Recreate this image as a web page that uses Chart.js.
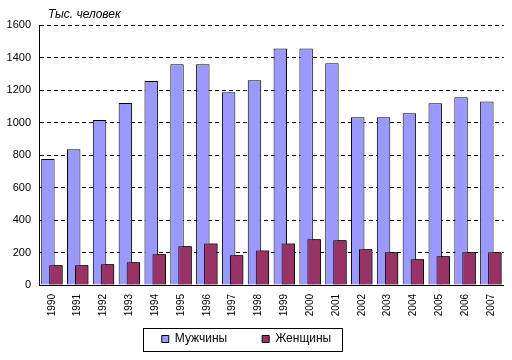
<!DOCTYPE html>
<html>
<head>
<meta charset="utf-8">
<script src="https://cdn.jsdelivr.net/npm/chart.js@4/dist/chart.umd.min.js"></script>
<style>
html, body { margin: 0; padding: 0; background: #ffffff; }
#wrap { width: 512px; height: 360px; }
</style>
</head>
<body>
<div id="wrap"><canvas id="chart" width="512" height="360"></canvas></div>
<script>
const years = ['1990', '1991', '1992', '1993', '1994', '1995', '1996', '1997', '1998',
    '1999', '2000', '2001', '2002', '2003', '2004', '2005', '2006', '2007'];
const men = [775, 835, 1015, 1120, 1255, 1358, 1358, 1186, 1260, 1455, 1455, 1364, 1032, 1032, 1057, 1118, 1155, 1130];
const women = [121, 121, 127, 140, 189, 238, 256, 183, 213, 256, 281, 275, 220, 201, 158, 177, 201, 201];
const seriesNames = ['Мужчины', 'Женщины'];
const unitLabel = 'Тыс. человек';

Chart.defaults.font.family = '"Liberation Sans", Arial, sans-serif';
Chart.defaults.color = '#000000';

// excel draws the second series over the first one
const womenOnTop = {
    id: 'womenOnTop',
    afterDatasetsDraw(chart) {
        chart.getDatasetMeta(1).controller.draw();
    }
};

const unitTitle = {
    id: 'unitTitle',
    afterDraw(chart) {
        const ctx = chart.ctx;
        ctx.save();
        ctx.font = 'italic 12px "Liberation Sans", Arial, sans-serif';
        ctx.fillStyle = '#000';
        ctx.textBaseline = 'alphabetic';
        ctx.fillText(unitLabel, chart.chartArea.left + 9, 18);
        ctx.restore();
    }
};

// legend in the original sits a bit left of centre, tucked under the year labels, with a frame
const legendFrame = {
    id: 'legendFrame',
    afterLayout(chart) {
        const lg = chart.legend;
        lg.left -= 7;
        lg.right -= 7;
        lg.top = chart.chartArea.bottom + 13;
        lg.bottom = chart.height;
        lg.height = lg.bottom - lg.top;
    },
    afterDraw(chart) {
        const boxes = chart.legend.legendHitBoxes;
        if (!boxes.length) return;
        var left = Math.min(...boxes.map(b => b.left)) - 19;
        var right = Math.max(...boxes.map(b => b.left + b.width)) + 11;
        var top = boxes[0].top - 5;
        var bottom = boxes[0].top + boxes[0].height + 6;
        const ctx = chart.ctx;
        ctx.save();
        ctx.strokeStyle = '#000';
        ctx.lineWidth = 1;
        ctx.strokeRect(Math.round(left) + 0.5, Math.round(top) + 0.5, Math.round(right - left), Math.round(bottom - top));
        ctx.restore();
    }
};

new Chart(document.getElementById('chart'), {
    type: 'bar',
    data: {
        labels: years,
        datasets: [{
            label: seriesNames[0],
            data: men,
            backgroundColor: '#9999ff',
            borderColor: '#000000',
            borderWidth: 1
        }, {
            label: seriesNames[1],
            data: women,
            backgroundColor: '#993366',
            borderColor: '#000000',
            borderWidth: 1
        }]
    },
    options: {
        responsive: false,
        animation: false,
        devicePixelRatio: 1,
        categoryPercentage: 0.62,
        barPercentage: 1.68,
        layout: {
            padding: { top: 25, right: 5, left: 0, bottom: 0 }
        },
        plugins: {
            legend: {
                position: 'bottom',
                maxHeight: 40,
                labels: {
                    boxWidth: 7,
                    boxHeight: 7,
                    padding: 35,
                    font: { size: 12 },
                    sort: (a, b) => a.datasetIndex - b.datasetIndex
                }
            },
            tooltip: { enabled: false }
        },
        scales: {
            x: {
                grid: { display: false, drawTicks: false },
                border: { display: true, color: '#000', width: 1 },
                ticks: {
                    autoSkip: false,
                    minRotation: 90,
                    maxRotation: 90,
                    padding: 9,
                    font: { size: 10 }
                },
                afterFit: function (scale) {
                    scale.height = 35;
                }
            },
            y: {
                min: 0,
                max: 1600,
                grid: { color: '#000', lineWidth: 1, drawTicks: false },
                border: { display: true, color: '#000', width: 1, dash: [4, 3] },
                ticks: {
                    stepSize: 200,
                    padding: 8,
                    font: { size: 11 },
                    callback: value => String(value)
                },
                afterFit: function (scale) {
                    scale.width = 39;
                }
            }
        }
    },
    plugins: [womenOnTop, unitTitle, legendFrame]
});
</script>
</body>
</html>
